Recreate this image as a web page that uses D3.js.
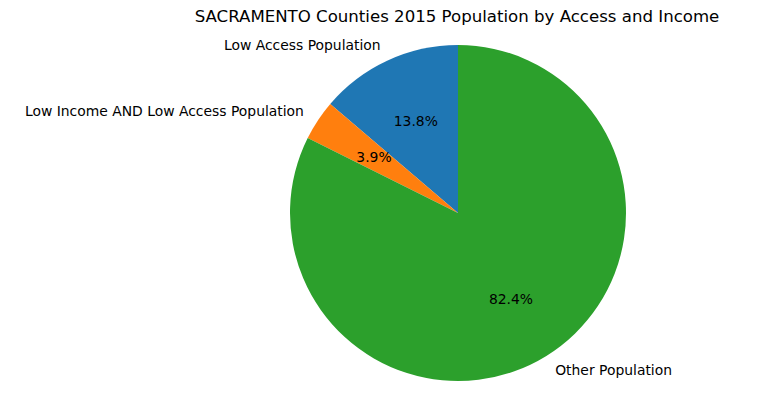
<!DOCTYPE html>
<html>
<head>
<meta charset="utf-8">
<script src="https://cdn.jsdelivr.net/npm/d3@7"></script>
<style>
  body { margin: 0; background: #fff; }
  text { font-family: "DejaVu Sans", sans-serif; fill: #000; }
</style>
</head>
<body>
<div id="chart"></div>
<script>
// Pie data
const labels = ['Low Access Population', 'Low Income AND Low Access Population', 'Other Population'];
const shares = [13.75, 3.88, 82.37];
const colors = ['#1f77b4', '#ff7f0e', '#2ca02c'];
const title = 'SACRAMENTO Counties 2015 Population by Access and Income';

const width = 773, height = 415;
const cx = 458, cy = 213, radius = 168;

const svg = d3.select('#chart')
  .append('svg')
  .attr('width', width)
  .attr('height', height);

svg.append('text')
  .attr('x', 457)
  .attr('y', 16)
  .attr('dy', '0.35em')
  .attr('text-anchor', 'middle')
  .style('font-size', '16.6px')
  .text(title);

const data = labels.map((name, i) => ({name: name, value: shares[i], color: colors[i]}));

// matplotlib style: start at top, go counterclockwise
const pie = d3.pie()
  .sort(null)
  .value(d => d.value)
  .startAngle(0)
  .endAngle(-2 * Math.PI);

const arcs = pie(data);
const arc = d3.arc().innerRadius(0).outerRadius(radius);

const g = svg.append('g').attr('transform', `translate(${cx},${cy})`);

g.selectAll('path')
  .data(arcs)
  .enter()
  .append('path')
  .attr('d', arc)
  .attr('fill', d => d.data.color);

const mid = d => (d.startAngle + d.endAngle) / 2;
const total = d3.sum(shares);

// outer labels at 1.1 r
g.selectAll('text.lbl')
  .data(arcs)
  .enter()
  .append('text')
  .attr('class', 'lbl')
  .attr('x', d => Math.sin(mid(d)) * radius * 1.1)
  .attr('y', d => -Math.cos(mid(d)) * radius * 1.1)
  .attr('dy', '0.35em')
  .attr('text-anchor', d => Math.sin(mid(d)) < 0 ? 'end' : 'start')
  .style('font-size', '13.9px')
  .text(d => d.data.name);

// percentage labels at 0.6 r
g.selectAll('text.pct')
  .data(arcs)
  .enter()
  .append('text')
  .attr('class', 'pct')
  .attr('x', d => Math.sin(mid(d)) * radius * 0.6)
  .attr('y', d => -Math.cos(mid(d)) * radius * 0.6)
  .attr('dy', '0.35em')
  .attr('text-anchor', 'middle')
  .style('font-size', '13.9px')
  .text(d => (d.data.value / total * 100).toFixed(1) + '%');
</script>
</body>
</html>
